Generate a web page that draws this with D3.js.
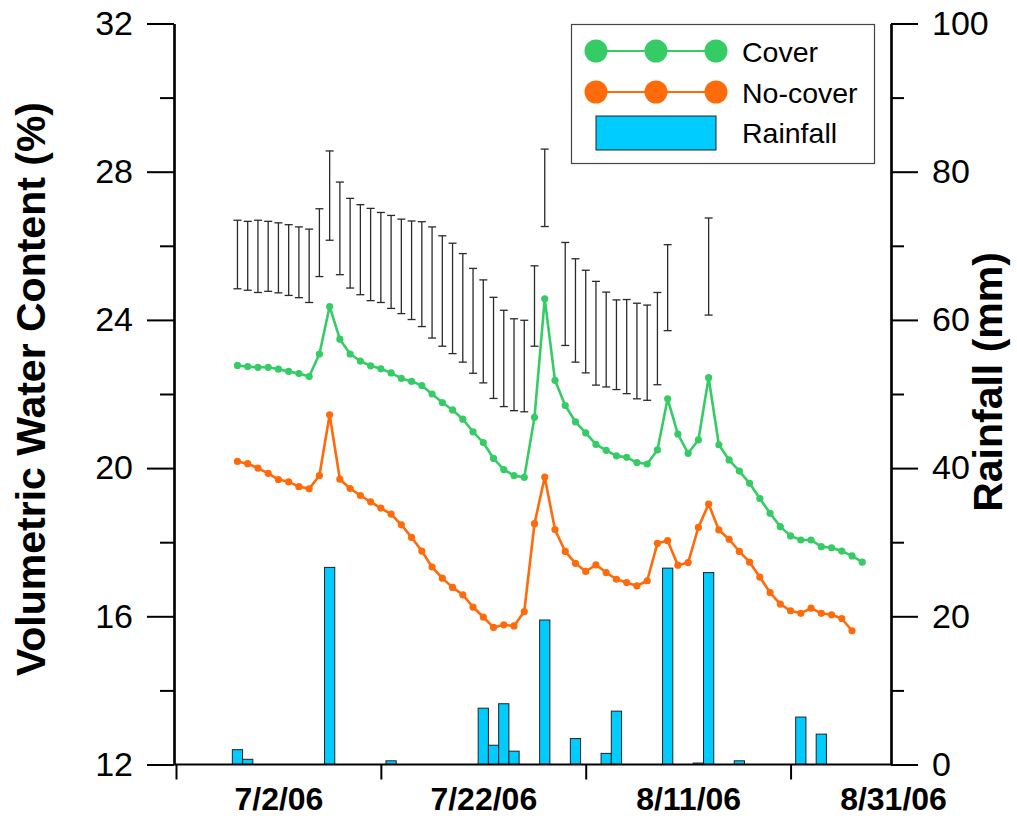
<!DOCTYPE html>
<html>
<head>
<meta charset="utf-8">
<script src="https://cdn.jsdelivr.net/npm/d3@7"></script>
<style>
  html, body { margin: 0; padding: 0; background: #fff; }
  svg { display: block; font-family: "Liberation Sans", Arial, Helvetica, sans-serif; }
</style>
</head>
<body>
<svg id="chart" width="1017" height="821"></svg>
<script>
// Daily soil moisture (cover vs. no-cover) with rainfall, 6/28/06 - 8/28/06
const firstDay = new Date(2006, 5, 28);
const dayCount = 62;

const coverVWC = [
  22.77, 22.74, 22.72, 22.72, 22.67, 22.61, 22.55, 22.47, 23.08, 24.36,
  23.48, 23.08, 22.89, 22.76, 22.68, 22.57, 22.42, 22.34, 22.23, 22.00,
  21.77, 21.57, 21.32, 20.98, 20.69, 20.26, 19.96, 19.80, 19.75, 21.37,
  24.57, 22.37, 21.69, 21.25, 20.95, 20.64, 20.48, 20.33, 20.29, 20.15,
  20.11, 20.49, 21.87, 20.92, 20.40, 20.76, 22.44, 20.63, 20.22, 19.92,
  19.59, 19.18, 18.78, 18.42, 18.17, 18.06, 18.06, 17.88, 17.85, 17.76,
  17.63, 17.46
];

const noCoverVWC = [
  20.18, 20.12, 20.00, 19.86, 19.69, 19.63, 19.50, 19.44, 19.80, 21.44,
  19.70, 19.45, 19.26, 19.09, 18.92, 18.76, 18.47, 18.13, 17.76, 17.33,
  17.03, 16.78, 16.58, 16.25, 15.98, 15.70, 15.77, 15.74, 16.13, 18.50,
  19.76, 18.34, 17.75, 17.43, 17.21, 17.39, 17.18, 17.00, 16.91, 16.82,
  16.96, 17.97, 18.04, 17.38, 17.45, 18.40, 19.03, 18.33, 18.08, 17.75,
  17.46, 17.06, 16.64, 16.33, 16.15, 16.08, 16.22, 16.08, 16.04, 15.94,
  15.61, null
];

// Difference bars drawn above the curves (upper and lower ends)
const errTop = [
  26.69, 26.66, 26.69, 26.66, 26.62, 26.57, 26.51, 26.45, 27.00, 28.56,
  27.72, 27.28, 27.11, 27.01, 26.90, 26.82, 26.72, 26.67, 26.65, 26.51,
  26.27, 26.07, 25.79, 25.39, 25.08, 24.61, 24.26, 24.03, 23.99, 25.46,
  28.61, null, 26.09, 25.65, 25.34, 25.04, 24.75, 24.54, 24.55, 24.45,
  24.40, 24.74, 26.03, null, null, null, 26.75, null, null, null,
  null, null, null, null, null, null, null, null, null, null,
  null, null
];
const errBottom = [
  24.84, 24.80, 24.74, 24.77, 24.73, 24.66, 24.60, 24.47, 25.17, 26.15,
  25.22, 24.86, 24.68, 24.52, 24.47, 24.31, 24.17, 24.01, 23.82, 23.51,
  23.29, 23.09, 22.86, 22.56, 22.30, 21.88, 21.66, 21.55, 21.52, 23.29,
  26.52, null, 23.31, 22.86, 22.57, 22.24, 22.19, 22.12, 22.01, 21.87,
  21.83, 22.25, 23.71, null, null, null, 24.13, null, null, null,
  null, null, null, null, null, null, null, null, null, null,
  null, null
];

const rainfallMM = [
  2.0, 0.7, 0, 0, 0, 0, 0, 0, 0, 26.6,
  0, 0, 0, 0, 0, 0.5, 0, 0, 0, 0,
  0, 0, 0, 0, 7.6, 2.6, 8.2, 1.8, 0, 0,
  19.5, 0, 0, 3.5, 0, 0, 1.5, 7.2, 0, 0,
  0, 0, 26.5, 0, 0, 0.2, 25.9, 0, 0, 0.5,
  0, 0, 0, 0, 0, 6.4, 0, 4.1, 0, 0,
  0, 0
];

const leftMajorTicks = [12, 16, 20, 24, 28, 32];
const leftMinorTicks = [14, 18, 22, 26, 30];
const rightMajorTicks = [0, 20, 40, 60, 80, 100];
const rightMinorTicks = [10, 30, 50, 70, 90];
const xTickDates = [new Date(2006, 5, 22), new Date(2006, 6, 12), new Date(2006, 7, 1), new Date(2006, 7, 21)];
const xLabelDates = [new Date(2006, 6, 2), new Date(2006, 6, 22), new Date(2006, 7, 11), new Date(2006, 7, 31)];
const xLabelText = ["7/2/06", "7/22/06", "8/11/06", "8/31/06"];

const seriesNames = ["Cover", "No-cover", "Rainfall"];
const colors = { cover: "#35cc66", noCover: "#ff6a0a", rain: "#00ccff" };

// Layout
const plot = { left: 174, right: 891, top: 23.5, bottom: 764.5 };
const days = d3.timeDay.range(firstDay, d3.timeDay.offset(firstDay, dayCount));

const svg = d3.select("#chart");

const x = d3.scaleTime()
  .domain([new Date(2006, 5, 22), new Date(2006, 7, 31)])
  .range([176, 893]);
const yL = d3.scaleLinear().domain([12, 32]).range([plot.bottom, plot.top]);
const yR = d3.scaleLinear().domain([0, 100]).range([plot.bottom, plot.top]);

const dayWidth = x(d3.timeDay.offset(firstDay, 1)) - x(firstDay);

// Rainfall bars (right axis)
svg.append("g").selectAll("rect")
  .data(rainfallMM.map((v, i) => ({ v, d: days[i] })).filter(o => o.v > 0))
  .join("rect")
  .attr("x", o => x(o.d) - dayWidth / 2)
  .attr("width", dayWidth)
  .attr("y", o => yR(o.v))
  .attr("height", o => yR(0) - yR(o.v))
  .attr("fill", colors.rain)
  .attr("stroke", "#222")
  .attr("stroke-width", 1);

// Difference bars
const errData = errTop.map((t, i) => ({ t, b: errBottom[i], d: days[i] })).filter(o => o.t != null);
const eg = svg.append("g").attr("stroke", "#2a2a2a").attr("stroke-width", 1.3).attr("fill", "none");
eg.selectAll("line.v").data(errData).join("line").attr("class", "v")
  .attr("x1", o => x(o.d)).attr("x2", o => x(o.d))
  .attr("y1", o => yL(o.t)).attr("y2", o => yL(o.b));
eg.selectAll("line.t").data(errData).join("line").attr("class", "t")
  .attr("x1", o => x(o.d) - 4).attr("x2", o => x(o.d) + 4)
  .attr("y1", o => yL(o.t)).attr("y2", o => yL(o.t));
eg.selectAll("line.b").data(errData).join("line").attr("class", "b")
  .attr("x1", o => x(o.d) - 4).attr("x2", o => x(o.d) + 4)
  .attr("y1", o => yL(o.b)).attr("y2", o => yL(o.b));

// Soil moisture lines
function drawSeries(values, color) {
  const line = d3.line()
    .defined(v => v != null)
    .x((v, i) => x(days[i]))
    .y(v => yL(v));
  const g = svg.append("g");
  g.append("path").datum(values)
    .attr("d", line)
    .attr("fill", "none")
    .attr("stroke", color)
    .attr("stroke-width", 2.6)
    .attr("stroke-linejoin", "round");
  g.selectAll("circle")
    .data(values.map((v, i) => ({ v, d: days[i] })).filter(o => o.v != null))
    .join("circle")
    .attr("cx", o => x(o.d))
    .attr("cy", o => yL(o.v))
    .attr("r", 3.6)
    .attr("fill", color);
}
drawSeries(coverVWC, colors.cover);
drawSeries(noCoverVWC, colors.noCover);

// Axes
function styleAxis(g) {
  g.selectAll("path.domain").attr("stroke", "#000").attr("stroke-width", 2.2);
  g.selectAll(".tick line").attr("stroke", "#000").attr("stroke-width", 2);
}

// Left axis
svg.append("g").attr("transform", `translate(${plot.left},0)`)
  .call(d3.axisLeft(yL).tickValues(leftMinorTicks).tickSize(14).tickSizeOuter(0).tickFormat(""))
  .call(styleAxis);
svg.append("g").attr("transform", `translate(${plot.left},0)`)
  .call(d3.axisLeft(yL).tickValues(leftMajorTicks).tickSize(27).tickSizeOuter(0).tickPadding(14).tickFormat(d3.format("d")))
  .call(styleAxis)
  .call(g => g.selectAll("text").attr("font-size", 34).attr("fill", "#000"));

// Right axis
svg.append("g").attr("transform", `translate(${plot.right},0)`)
  .call(d3.axisRight(yR).tickValues(rightMinorTicks).tickSize(13).tickSizeOuter(0).tickFormat(""))
  .call(styleAxis);
svg.append("g").attr("transform", `translate(${plot.right},0)`)
  .call(d3.axisRight(yR).tickValues(rightMajorTicks).tickSize(27).tickSizeOuter(0).tickPadding(14).tickFormat(d3.format("d")))
  .call(styleAxis)
  .call(g => g.selectAll("text").attr("font-size", 34).attr("fill", "#000"));

// Bottom axis: tick marks between date labels
svg.append("g").attr("transform", `translate(0,${plot.bottom})`)
  .call(d3.axisBottom(x).tickValues(xTickDates).tickSize(15).tickSizeOuter(0).tickFormat(""))
  .call(g => g.select("path.domain").attr("d", `M${plot.left},0H${plot.right}`))
  .call(styleAxis);
svg.append("g").attr("transform", `translate(0,${plot.bottom})`)
  .call(d3.axisBottom(x).tickValues(xLabelDates).tickSize(0).tickPadding(23)
    .tickFormat((d, i) => xLabelText[i]))
  .call(g => g.select("path.domain").remove())
  .call(g => g.selectAll("text").attr("font-size", 32).attr("font-weight", "bold").attr("fill", "#000"));

// Axis titles
svg.append("text")
  .attr("transform", `translate(45,389) rotate(-90)`)
  .attr("text-anchor", "middle")
  .attr("font-size", 41)
  .attr("font-weight", "bold")
  .text("Volumetric Water Content (%)");
svg.append("text")
  .attr("transform", `translate(1002,382) rotate(-90)`)
  .attr("text-anchor", "middle")
  .attr("font-size", 41)
  .attr("font-weight", "bold")
  .text("Rainfall (mm)");

// Legend
const lg = svg.append("g");
lg.append("rect").attr("x", 571.5).attr("y", 24.5).attr("width", 303).attr("height", 139)
  .attr("fill", "#fff").attr("stroke", "#444").attr("stroke-width", 1.2);
const legendRows = [
  { name: seriesNames[0], color: colors.cover, y: 51 },
  { name: seriesNames[1], color: colors.noCover, y: 92 }
];
legendRows.forEach(r => {
  lg.append("line").attr("x1", 596).attr("x2", 716).attr("y1", r.y).attr("y2", r.y)
    .attr("stroke", r.color).attr("stroke-width", 2);
  [596, 656, 716].forEach(cx => lg.append("circle").attr("cx", cx).attr("cy", r.y).attr("r", 11.5).attr("fill", r.color));
  lg.append("text").attr("x", 742).attr("y", r.y + 10.5).attr("font-size", 28.5).text(r.name);
});
lg.append("rect").attr("x", 596).attr("y", 116).attr("width", 120).attr("height", 34)
  .attr("fill", colors.rain).attr("stroke", "#222").attr("stroke-width", 1);
lg.append("text").attr("x", 742).attr("y", 143).attr("font-size", 28.5).text(seriesNames[2]);
</script>
</body>
</html>
